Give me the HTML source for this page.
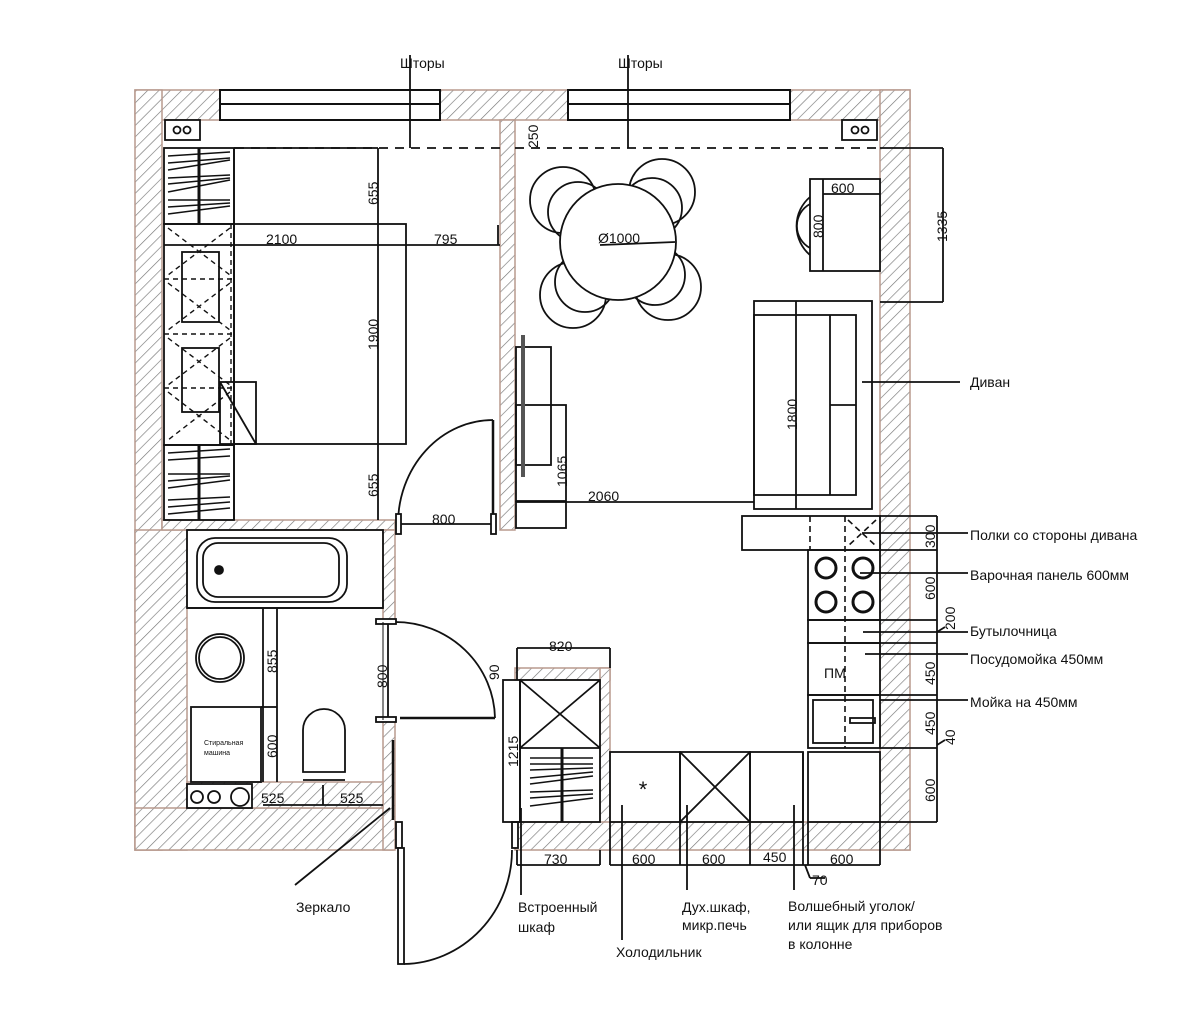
<!DOCTYPE html>
<html><head><meta charset="utf-8"><style>
html,body{margin:0;padding:0;background:#fff}
svg{display:block}
text{font-family:"Liberation Sans",sans-serif;fill:#111}
</style></head><body>
<svg width="1200" height="1033" viewBox="0 0 1200 1033" xmlns="http://www.w3.org/2000/svg">
<defs>
<pattern id="h" width="8" height="8" patternUnits="userSpaceOnUse" patternTransform="rotate(45)">
<rect width="8" height="8" fill="#fff"/><line x1="0" y1="0" x2="0" y2="8" stroke="#777" stroke-width="1.3"/>
</pattern>
</defs>
<g stroke="#b89a8e" stroke-width="1.5" fill="url(#h)">
<rect x="135" y="90" width="775" height="30"/>
<rect x="135" y="90" width="27" height="760"/>
<rect x="135" y="530" width="52" height="320"/>
<rect x="880" y="90" width="30" height="760"/>
<rect x="135" y="808" width="258" height="42"/>
<rect x="162" y="520" width="233" height="10"/>
<rect x="383" y="530" width="12" height="92"/>
<rect x="383" y="720" width="12" height="130"/>
<rect x="500" y="120" width="15" height="410"/>
<rect x="515" y="668" width="95" height="12"/>
<rect x="600" y="668" width="10" height="182"/>
<rect x="515" y="822" width="395" height="28"/>
<rect x="187" y="782" width="196" height="26"/>
</g>
<g fill="#fff" stroke="#111" stroke-width="2">
<rect x="220" y="90" width="220" height="30"/>
<line x1="220" y1="104" x2="440" y2="104"/>
<rect x="568" y="90" width="222" height="30"/>
<line x1="568" y1="104" x2="790" y2="104"/>
</g>
<g fill="none" stroke="#111" stroke-width="1.8">
<line x1="410" y1="55" x2="410" y2="148"/>
<line x1="628" y1="55" x2="628" y2="148"/>
<line x1="235" y1="148" x2="500" y2="148" stroke-dasharray="9,7"/>
<line x1="515" y1="148" x2="880" y2="148" stroke-dasharray="9,7"/>
<rect x="165" y="120" width="35" height="20" fill="#fff"/>
<circle cx="177" cy="130" r="3.5"/><circle cx="187" cy="130" r="3.5"/>
<rect x="842" y="120" width="35" height="20" fill="#fff"/>
<circle cx="855" cy="130" r="3.5"/><circle cx="865" cy="130" r="3.5"/>
<!-- bedroom wardrobes -->
<rect x="164" y="148" width="70" height="76"/>
<line x1="199" y1="148" x2="199" y2="224" stroke-width="3"/>
<rect x="164" y="445" width="70" height="75"/>
<line x1="199" y1="445" x2="199" y2="520" stroke-width="3"/>
<g stroke-width="1.6">
<line x1="168" y1="156" x2="230" y2="152"/><line x1="168" y1="163" x2="230" y2="158"/><line x1="168" y1="170" x2="230" y2="160"/><line x1="168" y1="178" x2="230" y2="175"/><line x1="168" y1="184" x2="230" y2="178"/><line x1="168" y1="192" x2="230" y2="180"/><line x1="168" y1="200" x2="230" y2="200"/><line x1="168" y1="207" x2="230" y2="203"/><line x1="168" y1="214" x2="230" y2="206"/>
<line x1="168" y1="453" x2="230" y2="449"/><line x1="168" y1="460" x2="230" y2="456"/><line x1="168" y1="474" x2="230" y2="474"/><line x1="168" y1="481" x2="230" y2="476"/><line x1="168" y1="488" x2="230" y2="480"/><line x1="168" y1="500" x2="230" y2="497"/><line x1="168" y1="507" x2="230" y2="502"/><line x1="168" y1="514" x2="230" y2="508"/>
</g>
<!-- bed -->
<rect x="234" y="224" width="172" height="220"/>
<line x1="234" y1="148" x2="378" y2="148"/>
<line x1="378" y1="148" x2="378" y2="520"/>
<line x1="234" y1="148" x2="234" y2="520"/>
<line x1="164" y1="245" x2="500" y2="245"/>
<line x1="498" y1="225" x2="498" y2="245"/>
<rect x="164" y="224" width="70" height="221"/>
<rect x="182" y="252" width="37" height="70"/>
<rect x="182" y="348" width="37" height="64"/>
<rect x="220" y="382" width="36" height="62"/>
<line x1="220" y1="382" x2="256" y2="444"/>
<g stroke-dasharray="5,4" stroke-width="1.4">
<line x1="164" y1="279" x2="234" y2="279"/><line x1="164" y1="334" x2="234" y2="334"/><line x1="164" y1="388" x2="234" y2="388"/>
<line x1="168" y1="228" x2="230" y2="275"/><line x1="230" y1="228" x2="168" y2="275"/>
<line x1="168" y1="283" x2="230" y2="330"/><line x1="230" y1="283" x2="168" y2="330"/>
<line x1="168" y1="338" x2="230" y2="385"/><line x1="230" y1="338" x2="168" y2="385"/>
<line x1="168" y1="392" x2="230" y2="440"/><line x1="230" y1="392" x2="168" y2="440"/>
<line x1="231" y1="224" x2="231" y2="444"/>
</g>
<!-- bedroom door -->
<line x1="398" y1="524" x2="495" y2="524"/>
<line x1="493" y1="420" x2="493" y2="524" stroke-width="2.5"/>
<path d="M398 524 A95 104 0 0 1 493 420"/>
<rect x="396" y="514" width="5" height="20" fill="#fff"/>
<rect x="491" y="514" width="5" height="20" fill="#fff"/>
<!-- bathroom -->
<rect x="187" y="530" width="196" height="78"/>
<rect x="197" y="538" width="150" height="64" rx="18"/>
<rect x="203" y="543" width="136" height="54" rx="15"/>
<circle cx="219" cy="570" r="4" fill="#111"/>
<line x1="187" y1="608" x2="383" y2="608"/>
<circle cx="220" cy="658" r="24"/>
<circle cx="220" cy="658" r="21"/>
<rect x="191" y="707" width="70" height="75"/>
<line x1="263" y1="608" x2="263" y2="782"/>
<line x1="277" y1="608" x2="277" y2="782"/>
<line x1="261" y1="707" x2="277" y2="707"/>
<path d="M303 772 V730 A21 21 0 0 1 345 730 V772 Z" fill="#fff"/>
<line x1="303" y1="780" x2="345" y2="780"/>
<rect x="187" y="784" width="65" height="24" fill="#fff"/>
<circle cx="197" cy="797" r="6"/><circle cx="214" cy="797" r="6"/><circle cx="240" cy="797" r="9"/>
<line x1="263" y1="805" x2="383" y2="805"/>
<line x1="323" y1="785" x2="323" y2="805"/>
<!-- bathroom door -->
<line x1="388" y1="622" x2="388" y2="720"/>
<path d="M395 622 A100 98 0 0 1 495 718"/>
<line x1="400" y1="718" x2="495" y2="718" stroke-width="2.5"/>
<rect x="376" y="619" width="20" height="5" fill="#fff"/>
<rect x="376" y="717" width="20" height="5" fill="#fff"/>
<!-- mirror -->
<line x1="393" y1="740" x2="393" y2="820" stroke-width="2.5"/>
<line x1="390" y1="808" x2="295" y2="885"/>
<!-- entrance door -->
<rect x="396" y="822" width="6" height="26" fill="#fff"/>
<rect x="398" y="848" width="6" height="116" fill="#fff"/>
<path d="M404 964 A110 114 0 0 0 512 850"/>
<rect x="512" y="822" width="6" height="26" fill="#fff"/>
<!-- built-in wardrobe -->
<rect x="503" y="680" width="17" height="142"/>
<rect x="520" y="680" width="80" height="142"/>
<line x1="520" y1="680" x2="600" y2="748"/><line x1="600" y1="680" x2="520" y2="748"/>
<line x1="520" y1="748" x2="600" y2="748"/>
<line x1="562" y1="748" x2="562" y2="822" stroke-width="3"/>
<g stroke-width="1.6">
<line x1="530" y1="758" x2="593" y2="758"/><line x1="530" y1="764" x2="593" y2="764"/><line x1="530" y1="770" x2="593" y2="768"/><line x1="530" y1="778" x2="593" y2="772"/><line x1="530" y1="784" x2="593" y2="776"/><line x1="530" y1="792" x2="593" y2="790"/><line x1="530" y1="798" x2="593" y2="794"/><line x1="530" y1="806" x2="593" y2="798"/>
</g>
<line x1="517" y1="648" x2="610" y2="648"/>
<line x1="517" y1="648" x2="517" y2="680"/><line x1="610" y1="648" x2="610" y2="668"/>
<line x1="517" y1="850" x2="517" y2="865"/><line x1="517" y1="865" x2="600" y2="865"/><line x1="600" y1="850" x2="600" y2="865"/>
<line x1="521" y1="808" x2="521" y2="895"/>
<!-- dining chairs -->
<circle cx="563" cy="200" r="33"/><circle cx="578" cy="212" r="30"/>
<circle cx="662" cy="192" r="33"/><circle cx="652" cy="208" r="30"/>
<circle cx="573" cy="295" r="33"/><circle cx="585" cy="282" r="30"/>
<circle cx="668" cy="287" r="33"/><circle cx="655" cy="275" r="30"/>
<circle cx="618" cy="242" r="58" fill="#fff"/>
<line x1="600" y1="245" x2="675" y2="242"/>
<!-- desk -->
<path d="M810 197 A38 38 0 0 0 810 255" />
<path d="M810 204 A25 25 0 0 0 810 248"/>
<rect x="810" y="179" width="70" height="92" fill="#fff"/>
<line x1="823" y1="179" x2="823" y2="271"/>
<line x1="823" y1="194" x2="880" y2="194"/>
<line x1="880" y1="148" x2="943" y2="148"/><line x1="943" y1="148" x2="943" y2="302"/><line x1="880" y1="302" x2="943" y2="302"/>
<!-- sofa -->
<rect x="754" y="301" width="118" height="208"/>
<rect x="754" y="315" width="102" height="180"/>
<line x1="796" y1="301" x2="796" y2="509"/>
<line x1="830" y1="315" x2="830" y2="495"/>
<line x1="830" y1="405" x2="856" y2="405"/>
<line x1="862" y1="382" x2="960" y2="382"/>
<!-- TV -->
<rect x="516" y="347" width="35" height="118"/>
<rect x="516" y="405" width="50" height="96"/>
<line x1="523" y1="335" x2="523" y2="477" stroke-width="4" stroke="#555"/>
<rect x="516" y="502" width="50" height="26"/>
<line x1="566" y1="502" x2="754" y2="502"/>
<!-- kitchen -->
<rect x="742" y="516" width="138" height="34"/>
<rect x="808" y="550" width="72" height="70"/>
<rect x="808" y="620" width="72" height="23"/>
<rect x="808" y="643" width="72" height="52"/>
<rect x="808" y="695" width="72" height="53"/>
<rect x="813" y="700" width="60" height="43"/>
<rect x="850" y="718" width="25" height="5"/>
<rect x="808" y="752" width="72" height="70"/>
<rect x="610" y="752" width="70" height="70"/>
<rect x="680" y="752" width="70" height="70"/>
<line x1="680" y1="752" x2="750" y2="822"/><line x1="750" y1="752" x2="680" y2="822"/>
<rect x="750" y="752" width="53" height="70"/>
<line x1="803" y1="752" x2="803" y2="822"/>
<g stroke-width="3"><circle cx="826" cy="568" r="10"/><circle cx="863" cy="568" r="10"/><circle cx="826" cy="602" r="10"/><circle cx="863" cy="602" r="10"/></g>
<g stroke-dasharray="6,4" stroke-width="1.6">
<line x1="810" y1="516" x2="810" y2="550"/>
<line x1="845" y1="516" x2="845" y2="748"/>
<line x1="848" y1="520" x2="876" y2="546"/><line x1="876" y1="520" x2="848" y2="546"/>
</g>
<line x1="880" y1="516" x2="937" y2="516"/><line x1="937" y1="516" x2="937" y2="822"/>
<line x1="880" y1="550" x2="937" y2="550"/><line x1="880" y1="620" x2="937" y2="620"/>
<line x1="880" y1="643" x2="937" y2="643"/><line x1="880" y1="695" x2="937" y2="695"/>
<line x1="880" y1="748" x2="937" y2="748"/><line x1="880" y1="822" x2="937" y2="822"/>
<line x1="937" y1="632" x2="945" y2="627"/><line x1="937" y1="745" x2="945" y2="740"/>
<line x1="862" y1="533" x2="968" y2="533"/>
<line x1="860" y1="573" x2="968" y2="573"/>
<line x1="863" y1="632" x2="968" y2="632"/>
<line x1="865" y1="654" x2="968" y2="654"/>
<line x1="880" y1="700" x2="968" y2="700"/>
<line x1="610" y1="865" x2="880" y2="865"/>
<g><line x1="610" y1="822" x2="610" y2="865"/><line x1="680" y1="822" x2="680" y2="865"/><line x1="750" y1="822" x2="750" y2="865"/><line x1="803" y1="822" x2="803" y2="865"/><line x1="808" y1="822" x2="808" y2="865"/><line x1="880" y1="822" x2="880" y2="865"/></g>
<line x1="805" y1="865" x2="810" y2="878"/><line x1="810" y1="878" x2="825" y2="878"/>
<line x1="622" y1="805" x2="622" y2="940"/>
<line x1="687" y1="805" x2="687" y2="890"/>
<line x1="794" y1="805" x2="794" y2="890"/>
<line x1="383" y1="622" x2="383" y2="720" stroke-width="1"/>
</g>
<text x="643" y="797" font-size="22" text-anchor="middle">*</text>
<g font-size="14">
<text x="400" y="68">Шторы</text>
<text x="618" y="68">Шторы</text>
<text x="266" y="244">2100</text>
<text x="434" y="244">795</text>
<text x="598" y="243">Ø1000</text>
<text x="831" y="193">600</text>
<text x="588" y="501">2060</text>
<text x="432" y="524">800</text>
<text x="549" y="651">820</text>
<text x="544" y="864">730</text>
<text x="261" y="803">525</text>
<text x="340" y="803">525</text>
<text x="632" y="864">600</text>
<text x="702" y="864">600</text>
<text x="763" y="862">450</text>
<text x="830" y="864">600</text>
<text x="812" y="885">70</text>
<text x="824" y="678">ПМ</text>
<text x="970" y="387">Диван</text>
<text x="970" y="540">Полки со стороны дивана</text>
<text x="970" y="580">Варочная панель 600мм</text>
<text x="970" y="636">Бутылочница</text>
<text x="970" y="664">Посудомойка 450мм</text>
<text x="970" y="707">Мойка на 450мм</text>
<text x="296" y="912">Зеркало</text>
<text x="518" y="912">Встроенный</text>
<text x="518" y="932">шкаф</text>
<text x="616" y="957">Холодильник</text>
<text x="682" y="912">Дух.шкаф,</text>
<text x="682" y="930">микр.печь</text>
<text x="788" y="911">Волшебный уголок/</text>
<text x="788" y="930">или ящик для приборов</text>
<text x="788" y="949">в колонне</text>
</g>
<g font-size="14">
<text transform="translate(378,205) rotate(-90)">655</text>
<text transform="translate(378,350) rotate(-90)">1900</text>
<text transform="translate(378,497) rotate(-90)">655</text>
<text transform="translate(538,148) rotate(-90)">250</text>
<text transform="translate(823,238) rotate(-90)">800</text>
<text transform="translate(947,242) rotate(-90)">1335</text>
<text transform="translate(797,430) rotate(-90)">1800</text>
<text transform="translate(567,487) rotate(-90)">1065</text>
<text transform="translate(277,673) rotate(-90)">855</text>
<text transform="translate(277,758) rotate(-90)">600</text>
<text transform="translate(387,688) rotate(-90)">800</text>
<text transform="translate(499,680) rotate(-90)">90</text>
<text transform="translate(518,767) rotate(-90)">1215</text>
<text transform="translate(935,548) rotate(-90)">300</text>
<text transform="translate(935,600) rotate(-90)">600</text>
<text transform="translate(955,630) rotate(-90)">200</text>
<text transform="translate(935,685) rotate(-90)">450</text>
<text transform="translate(935,735) rotate(-90)">450</text>
<text transform="translate(955,745) rotate(-90)">40</text>
<text transform="translate(935,802) rotate(-90)">600</text>
</g>
<g font-size="7"><text x="204" y="745">Стиральная</text><text x="204" y="755">машина</text></g>
</svg>
</body></html>
